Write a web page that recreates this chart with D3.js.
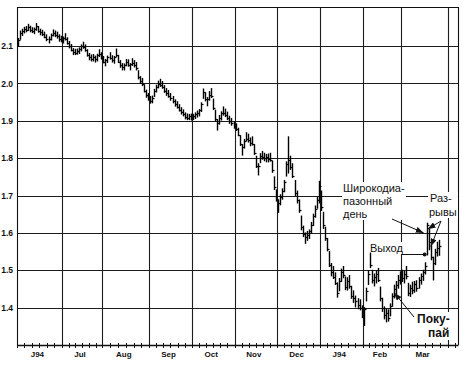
<!DOCTYPE html>
<html><head><meta charset="utf-8">
<script src="https://cdn.jsdelivr.net/npm/d3@7"></script>
<style>html,body{margin:0;padding:0;background:#fff;} svg{display:block;}</style>
</head><body>
<svg id="c" width="462" height="365"></svg>
<script>
// ---- data ----
const monthLabels = ["J94","Jul","Aug","Sep","Oct","Nov","Dec","J94","Feb","Mar"];
const monthTradingDays = [22,20,23,21,21,21,21,21,19,23];
const yTickValues = [1.4,1.5,1.6,1.7,1.8,1.9,2.0,2.1];

const high = [
2.120,2.140,2.145,2.150,2.152,2.158,2.153,2.149,2.148,2.160,
2.152,2.145,2.142,2.137,2.130,2.124,2.132,2.143,2.140,2.137,
2.130,2.126,2.124,2.133,2.122,2.112,2.104,2.093,2.091,2.092,
2.095,2.103,2.110,2.103,2.090,2.080,2.076,2.077,2.073,2.078,
2.090,2.082,2.072,2.064,2.073,2.082,2.074,2.072,2.092,2.075,
2.061,2.053,2.052,2.064,2.063,2.053,2.066,2.061,2.056,2.034,
2.018,2.013,1.996,1.982,1.973,1.965,1.966,1.984,1.995,2.006,
2.011,2.005,1.994,1.986,1.981,1.973,1.965,1.956,1.951,1.943,
1.935,1.929,1.921,1.918,1.917,1.918,1.917,1.921,1.926,1.930,
1.948,1.985,1.975,1.962,1.978,1.986,1.958,1.928,1.903,1.914,
1.924,1.937,1.931,1.923,1.912,1.906,1.898,1.892,1.880,1.860,
1.836,1.850,1.868,1.864,1.854,1.857,1.836,1.805,1.785,1.812,
1.818,1.813,1.810,1.811,1.813,1.792,1.750,1.715,1.688,1.702,
1.718,1.740,1.790,1.857,1.805,1.785,1.740,1.712,1.688,1.645,
1.618,1.600,1.604,1.608,1.628,1.650,1.672,1.695,1.738,1.712,
1.655,1.615,1.585,1.550,1.518,1.510,1.493,1.466,1.478,1.503,
1.510,1.482,1.480,1.486,1.457,1.445,1.431,1.424,1.421,1.405,
1.400,1.452,1.498,1.546,1.500,1.490,1.498,1.505,1.455,1.425,
1.402,1.395,1.394,1.410,1.437,1.460,1.470,1.486,1.496,1.500,
1.497,1.510,1.465,1.460,1.468,1.470,1.472,1.480,1.490,1.500,
1.520,1.626,1.610,1.566,1.535,1.556,1.575,1.580];

const low = [
2.100,2.118,2.128,2.135,2.138,2.142,2.138,2.136,2.133,2.142,
2.137,2.130,2.128,2.122,2.114,2.108,2.116,2.127,2.125,2.121,
2.113,2.111,2.108,2.116,2.105,2.095,2.087,2.077,2.077,2.078,
2.080,2.087,2.094,2.086,2.073,2.063,2.060,2.060,2.057,2.060,
2.072,2.065,2.055,2.047,2.056,2.065,2.057,2.054,2.072,2.056,
2.043,2.036,2.036,2.047,2.046,2.036,2.048,2.044,2.036,2.012,
2.000,1.994,1.977,1.963,1.955,1.947,1.948,1.965,1.977,1.988,
1.992,1.987,1.976,1.968,1.963,1.955,1.948,1.939,1.934,1.926,
1.918,1.913,1.905,1.903,1.903,1.902,1.903,1.906,1.910,1.913,
1.925,1.960,1.953,1.940,1.955,1.962,1.930,1.900,1.875,1.891,
1.902,1.915,1.911,1.903,1.893,1.888,1.880,1.874,1.860,1.834,
1.808,1.827,1.846,1.843,1.833,1.835,1.810,1.775,1.755,1.788,
1.797,1.793,1.790,1.790,1.792,1.762,1.716,1.685,1.655,1.675,
1.690,1.710,1.752,1.760,1.770,1.748,1.700,1.680,1.655,1.608,
1.590,1.572,1.580,1.585,1.600,1.620,1.642,1.666,1.680,1.660,
1.612,1.580,1.552,1.510,1.485,1.478,1.462,1.428,1.445,1.470,
1.480,1.448,1.447,1.452,1.425,1.414,1.402,1.397,1.394,1.373,
1.352,1.418,1.462,1.507,1.466,1.458,1.466,1.470,1.418,1.390,
1.370,1.362,1.364,1.378,1.404,1.426,1.436,1.452,1.463,1.470,
1.466,1.477,1.432,1.430,1.437,1.441,1.444,1.452,1.463,1.473,
1.490,1.541,1.555,1.528,1.474,1.515,1.538,1.540];

const close = [
2.115,2.135,2.140,2.146,2.144,2.150,2.142,2.140,2.145,2.153,
2.140,2.138,2.132,2.125,2.118,2.120,2.130,2.136,2.130,2.127,
2.118,2.117,2.121,2.120,2.108,2.099,2.090,2.085,2.082,2.087,
2.092,2.100,2.098,2.088,2.076,2.070,2.066,2.070,2.064,2.075,
2.079,2.068,2.058,2.062,2.070,2.068,2.062,2.070,2.076,2.058,
2.048,2.045,2.050,2.058,2.050,2.051,2.055,2.049,2.040,2.016,
2.006,1.997,1.980,1.968,1.960,1.953,1.962,1.980,1.990,1.999,
1.996,1.990,1.980,1.975,1.967,1.960,1.952,1.945,1.938,1.929,
1.923,1.917,1.911,1.908,1.912,1.909,1.913,1.917,1.920,1.928,
1.945,1.978,1.958,1.957,1.970,1.965,1.935,1.905,1.895,1.908,
1.920,1.922,1.915,1.908,1.900,1.893,1.886,1.878,1.862,1.838,
1.830,1.846,1.852,1.848,1.840,1.838,1.815,1.780,1.778,1.806,
1.803,1.800,1.802,1.798,1.795,1.768,1.722,1.690,1.680,1.695,
1.712,1.735,1.785,1.795,1.775,1.752,1.708,1.688,1.660,1.615,
1.598,1.590,1.595,1.605,1.622,1.645,1.665,1.688,1.725,1.668,
1.620,1.585,1.556,1.515,1.495,1.482,1.466,1.440,1.470,1.495,
1.486,1.455,1.470,1.458,1.432,1.425,1.418,1.408,1.400,1.380,
1.395,1.445,1.490,1.515,1.475,1.482,1.490,1.475,1.425,1.398,
1.380,1.385,1.372,1.405,1.430,1.450,1.460,1.475,1.488,1.478,
1.490,1.485,1.440,1.452,1.446,1.462,1.452,1.474,1.485,1.495,
1.512,1.620,1.575,1.535,1.520,1.548,1.560,1.565];

// ---- layout ----
const plot = {left:17, right:458, top:7, bottom:345};
const svg = d3.select("#c");
const x = d3.scaleLinear().domain([0,212]).range([17,448]);
const y = d3.scaleLinear().domain([1.3,2.1]).range([345,46]);
const px = v => Math.round(v) + 0.5;
const gridColor = "#1c1c1c";

const bounds = [0];
monthTradingDays.forEach(d => bounds.push(bounds[bounds.length-1] + d));

// horizontal grid
svg.append("g").selectAll("line").data(yTickValues).join("line")
  .attr("x1", plot.left).attr("x2", plot.right)
  .attr("y1", d => px(y(d))).attr("y2", d => px(y(d)))
  .attr("stroke", gridColor).attr("stroke-width", 1.1);

// vertical grid at month boundaries
svg.append("g").selectAll("line").data(bounds.slice(1)).join("line")
  .attr("x1", d => px(x(d))).attr("x2", d => px(x(d)))
  .attr("y1", plot.top).attr("y2", plot.bottom)
  .attr("stroke", gridColor).attr("stroke-width", 1.1);

// frame
const frame = svg.append("g").attr("stroke", "#111").attr("stroke-width", 1.1);
frame.append("line").attr("x1", plot.left).attr("x2", plot.right+0.5).attr("y1", px(plot.top)).attr("y2", px(plot.top));
frame.append("line").attr("x1", px(plot.right)).attr("x2", px(plot.right)).attr("y1", plot.top).attr("y2", plot.bottom);
frame.append("line").attr("x1", px(plot.left)).attr("x2", px(plot.left)).attr("y1", plot.top).attr("y2", plot.bottom+1);
frame.append("line").attr("x1", plot.left).attr("x2", plot.right+0.5).attr("y1", px(plot.bottom)).attr("y2", px(plot.bottom)).attr("stroke-width", 1.4);

// y axis labels
const yAxis = svg.append("g").attr("transform", `translate(${plot.left},0)`)
  .call(d3.axisLeft(y).tickValues(yTickValues).tickSize(0).tickPadding(4).tickFormat(d3.format(".1f")));
yAxis.select(".domain").remove();
yAxis.selectAll("text").attr("font-family", "Liberation Sans, Arial, sans-serif")
  .attr("font-size", 8.5).attr("font-weight", "bold").attr("fill", "#111");

// minor ticks on x axis
const minor = [];
monthTradingDays.forEach((d, m) => { for (let k = 0; k < 6; k++) minor.push(bounds[m] + d*k/6); });
minor.push(212, 212 + 22/6);
svg.append("g").selectAll("line").data(minor).join("line")
  .attr("x1", d => px(x(d))).attr("x2", d => px(x(d)))
  .attr("y1", plot.bottom - 2).attr("y2", plot.bottom + 3)
  .attr("stroke", "#111").attr("stroke-width", 1);

// month labels
const centers = monthTradingDays.map((d, m) => bounds[m] + d/2);
const xAxis = svg.append("g").attr("transform", `translate(0,${plot.bottom})`)
  .call(d3.axisBottom(x).tickValues(centers).tickSize(0).tickPadding(6)
    .tickFormat((d, i) => monthLabels[i]));
xAxis.select(".domain").remove();
xAxis.selectAll("text").attr("font-family", "Liberation Sans, Arial, sans-serif")
  .attr("font-size", 8).attr("font-weight", "bold").attr("fill", "#111").attr("dx", -2.5);

// annotation labels with white background
function label(lines, x0, base0, lh, size, weight) {
  const g = svg.append("g");
  const t = g.append("text").attr("font-family", "Liberation Sans, Arial, sans-serif")
    .attr("font-size", size).attr("font-weight", weight).attr("fill", "#111");
  lines.forEach((s, k) => t.append("tspan").attr("x", s[1] !== undefined ? s[1] : x0)
    .attr("y", base0 + k*lh).text(s[0]));
  const b = t.node().getBBox();
  g.insert("rect", "text").attr("x", b.x - 1).attr("y", b.y).attr("width", b.width + 2)
    .attr("height", b.height).attr("fill", "#fff");
}
label([["Широкодиа-"],["пазонный"],["день"]], 343, 192, 13, 11, "normal");
label([["Раз-", 430],["рывы", 429]], 430, 202, 14, 11, "normal");
label([["Выход"]], 370, 252, 13, 11, "normal");
label([["Поку-", 417],["пай", 428]], 417, 323, 14, 12, "bold");

// bars
const bars = high.map((h, i) => ({i, h, l: low[i], c: close[i]}));
const bg = svg.append("g").attr("stroke", "#000");
bg.selectAll("line.hl").data(bars).join("line").attr("class", "hl")
  .attr("stroke-width", 1.4)
  .attr("x1", d => px(x(d.i + 0.5))).attr("x2", d => px(x(d.i + 0.5)))
  .attr("y1", d => y(d.h) - 0.5).attr("y2", d => y(d.l) + 0.5);
bg.selectAll("line.cl").data(bars).join("line").attr("class", "cl")
  .attr("stroke-width", 1.2)
  .attr("x1", d => px(x(d.i + 0.5))).attr("x2", d => px(x(d.i + 0.5)) + 2)
  .attr("y1", d => px(y(d.c))).attr("y2", d => px(y(d.c)));

// arrows
const defs = svg.append("defs");
defs.append("marker").attr("id", "ah").attr("markerUnits", "userSpaceOnUse")
  .attr("markerWidth", 8).attr("markerHeight", 6).attr("refX", 8).attr("refY", 3)
  .attr("orient", "auto").append("path").attr("d", "M0,0 L8,3 L0,6 Z").attr("fill", "#111");
const arrows = [
  [392, 219, x(201.5) - 3, y(1.600)],
  [441, 221, x(201.5) + 1, y(1.610)],
  [441, 221, x(203.5), y(1.566) + 1],
  [414, 317, x(185.5), y(1.440)]
];
svg.append("g").selectAll("line").data(arrows).join("line")
  .attr("x1", d => d[0]).attr("y1", d => d[1]).attr("x2", d => d[2]).attr("y2", d => d[3])
  .attr("stroke", "#111").attr("stroke-width", 1).attr("marker-end", "url(#ah)");

// exit marker
const exitY = px(y(1.543));
svg.append("line").attr("x1", x(189)).attr("x2", x(201.5) - 2).attr("y1", exitY).attr("y2", exitY)
  .attr("stroke", "#111").attr("stroke-width", 1);
svg.append("circle").attr("cx", x(201.5) - 2).attr("cy", exitY).attr("r", 2).attr("fill", "#111");
</script>
</body></html>
